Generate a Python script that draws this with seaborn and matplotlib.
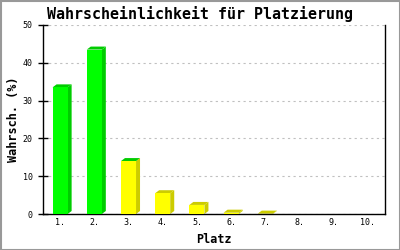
import matplotlib
matplotlib.use("Agg")
import matplotlib.pyplot as plt
import seaborn as sns
import pandas as pd
from matplotlib.patches import Polygon, Rectangle

places = ["1.", "2.", "3.", "4.", "5.", "6.", "7.", "8.", "9.", "10."]
probabilities = [33.5, 43.5, 14.0, 5.5, 2.4, 0.35, 0.1, 0.0, 0.0, 0.0]
front_colors = ["#00ff00", "#00ff00", "#ffff00", "#ffff00", "#ffff00",
                "#ffff00", "#ffff00", "#ffff00", "#ffff00", "#ffff00"]
side_colors = ["#00cc00", "#00cc00", "#cccc00", "#cccc00", "#cccc00",
               "#cccc00", "#cccc00", "#cccc00", "#cccc00", "#cccc00"]
top_colors = ["#00cc00", "#00cc00", "#00cc00", "#cccc00", "#cccc00",
              "#cccc00", "#cccc00", "#cccc00", "#cccc00", "#cccc00"]
y_ticks = [0, 10, 20, 30, 40, 50]

df = pd.DataFrame({"Platz": places, "p": probabilities})

sns.set_style("white")
plt.rcParams["font.family"] = ["DejaVu Sans Mono"]
plt.rcParams["text.color"] = "black"
plt.rcParams["axes.labelcolor"] = "black"
plt.rcParams["xtick.color"] = "black"
plt.rcParams["ytick.color"] = "black"

fig = plt.figure(figsize=(4, 2.5), dpi=100)
ax = fig.add_axes([43 / 400, 36 / 250, 342 / 400, 189 / 250])

sns.barplot(data=df, x="Platz", y="p", hue="Platz", palette=front_colors,
            legend=False, width=0.44, ax=ax, saturation=1, linewidth=0, zorder=3)

ax.set_xlim(-0.5, 9.5)
ax.set_ylim(0, 50)

# 3D depth in pixels converted to data units
dx = 4 / (342 / 10)
dy = 3 / (189 / 50)
for i, patch in enumerate(ax.patches[:len(places)]):
    h = patch.get_height()
    if h <= 0:
        continue
    x0 = patch.get_x()
    w = patch.get_width()
    x1 = x0 + w
    side = Polygon([(x1, 0), (x1 + dx, dy), (x1 + dx, h + dy), (x1, h)],
                   closed=True, facecolor=side_colors[i], edgecolor="none", zorder=2)
    top = Polygon([(x0, h), (x0 + dx, h + dy), (x1 + dx, h + dy), (x1, h)],
                  closed=True, facecolor=top_colors[i], edgecolor="none", zorder=2)
    ax.add_patch(side)
    ax.add_patch(top)

ax.set_yticks(y_ticks)
ax.set_yticklabels([str(v) for v in y_ticks])
ax.yaxis.grid(True, color="#c0c0c0", linestyle=(0, (2, 3)), linewidth=0.8)
ax.set_axisbelow(True)
ax.tick_params(axis="y", direction="inout", length=7, width=1, labelsize=6,
               pad=4, left=True)
ax.tick_params(axis="x", length=0, labelsize=6, pad=3)

for s in ["left", "bottom", "right"]:
    ax.spines[s].set_visible(True)
    ax.spines[s].set_color("black")
    ax.spines[s].set_linewidth(1)
ax.spines["top"].set_visible(False)

ax.set_xlabel("Platz", fontsize=8.5, fontweight="bold", labelpad=4)
ax.set_ylabel("Wahrsch. (%)", fontsize=8.5, fontweight="bold", labelpad=2)

fig.text(0.5, 1 - 14 / 250, "Wahrscheinlichkeit für Platzierung",
         ha="center", va="center", fontsize=10.8, fontweight="bold")

fig.patches.append(Rectangle((0.5 / 400, 0.5 / 250), 399 / 400, 249 / 250,
                             transform=fig.transFigure, fill=False,
                             edgecolor="#999999", linewidth=1.5))

fig.savefig("out.png", dpi=100)
